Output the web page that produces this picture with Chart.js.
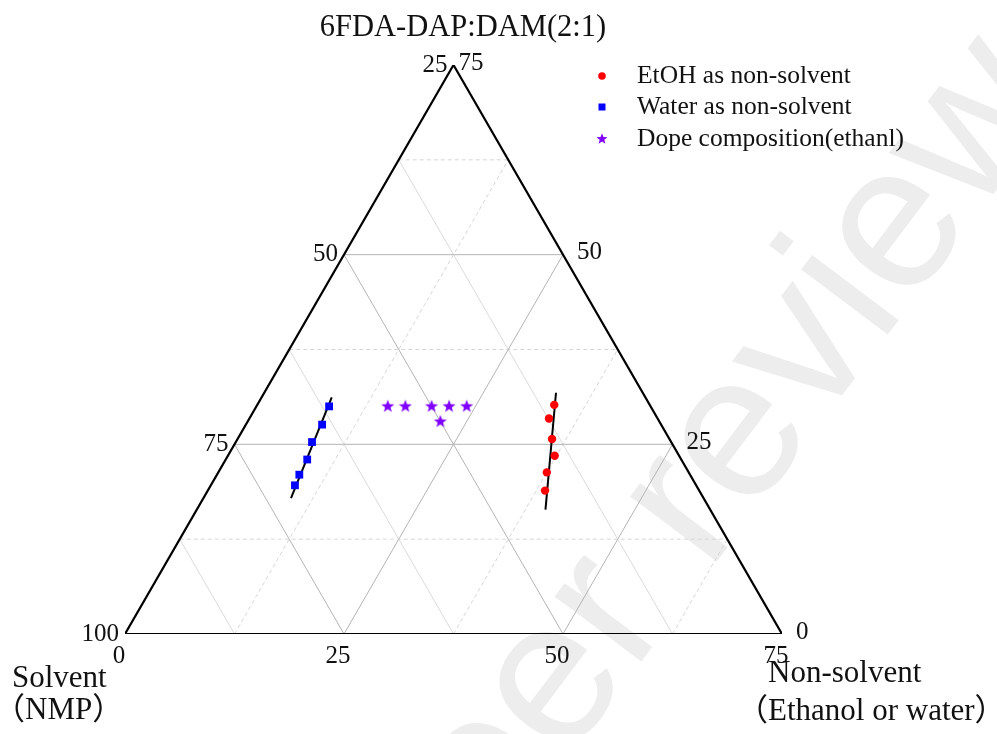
<!DOCTYPE html>
<html>
<head>
<meta charset="utf-8">
<title>6FDA-DAP:DAM(2:1)</title>
<script src="https://cdn.jsdelivr.net/npm/chart.js@4.4.0/dist/chart.umd.min.js"></script>
<style>
  html, body { margin: 0; padding: 0; background: #fff; }
  #wrap { width: 997px; height: 734px; position: relative; }
</style>
</head>
<body>
<div id="wrap"><canvas id="ternary"></canvas></div>
<script>
// Composiciones (% en peso): no-solvente y polímero, el solvente es el resto hasta 100
const etohNonsolvent = [33.9, 34.2, 35.9, 37.3, 37.5, 38.5];
const etohPolymer    = [30.2, 28.4, 25.7, 23.5, 21.3, 18.9];

const waterNonsolvent = [8.3, 8.7, 8.7, 9.3, 9.4, 9.6];
const waterPolymer    = [30.0, 27.6, 25.3, 23.0, 21.0, 19.6];

const dopeNonsolvent = [15, 17, 20, 22, 24, 22];
const dopePolymer    = [30, 30, 30, 30, 30, 28];

// Rectas de ajuste (extremos)
const etohFitNonsolvent  = [33.3, 39.8];
const etohFitPolymer     = [31.8, 16.4];
const waterFitNonsolvent = [8.0, 10.0];
const waterFitPolymer    = [31.2, 17.9];

// Etiquetas de los ejes
const solventTicks    = [100, 75, 50, 25];
const nonsolventTicks = [0, 25, 50, 75];
const polymerTicks    = [0, 25, 50, 75];
const gridLevels  = [12.5, 25, 37.5, 50, 62.5];
const majorLevels = [25, 50];

const SPAN = 75;               // lado del triángulo en %
const H = Math.sqrt(3) / 2;

// Pasar (no-solvente, polímero) a coordenadas cartesianas
function toXY(n, p) {
  return { x: n + p / 2, y: p * H };
}

function puntos(ns, ps) {
  return ns.map((n, i) => toXY(n, ps[i]));
}

// Estrella rellena para usar como pointStyle
function crearEstrella(radio, color) {
  const c = document.createElement('canvas');
  const s = Math.ceil(radio * 2 + 2);
  c.width = s;
  c.height = s;
  const ctx = c.getContext('2d');
  ctx.fillStyle = color;
  ctx.beginPath();
  for (let i = 0; i < 10; i++) {
    const r = i % 2 === 0 ? radio : radio * 0.42;
    const a = -Math.PI / 2 + i * Math.PI / 5;
    ctx.lineTo(s / 2 + r * Math.cos(a), s / 2 + r * Math.sin(a));
  }
  ctx.closePath();
  ctx.fill();
  return c;
}

const estrella = crearEstrella(6.8, '#7f00ff');
const estrellaLeyenda = crearEstrella(5.8, '#7f00ff');

// Líneas de la rejilla
function lineaRejilla(a, b, tipo) {
  const estilos = {
    major:  { color: '#b4b4b4', dash: [] },
    solid:  { color: '#dadada', dash: [] },
    dashed: { color: '#d6d6d6', dash: [4, 3] }
  };
  const e = estilos[tipo];
  return {
    data: [a, b],
    showLine: true,
    borderColor: e.color,
    borderDash: e.dash,
    borderWidth: 1,
    pointRadius: 0,
    fill: false,
    order: 5
  };
}

const datasets = [];
gridLevels.forEach(v => {
  const major = majorLevels.includes(v);
  // polímero constante
  datasets.push(lineaRejilla(toXY(0, v), toXY(SPAN - v, v), major ? 'major' : 'dashed'));
  // no-solvente constante
  datasets.push(lineaRejilla(toXY(v, 0), toXY(v, SPAN - v), major ? 'major' : 'dashed'));
  // solvente constante
  datasets.push(lineaRejilla(toXY(v, 0), toXY(0, v), major ? 'major' : 'solid'));
});

// Bordes del triángulo
datasets.push({
  data: [toXY(0, 0), toXY(SPAN, 0), toXY(0, SPAN), toXY(0, 0)],
  showLine: true,
  borderColor: '#000',
  borderWidth: 2.2,
  pointRadius: 0,
  fill: false,
  order: 3
});

// Ajustes
[[etohFitNonsolvent, etohFitPolymer], [waterFitNonsolvent, waterFitPolymer]].forEach(([ns, ps]) => {
  datasets.push({
    data: puntos(ns, ps),
    showLine: true,
    borderColor: '#000',
    borderWidth: 2,
    pointRadius: 0,
    fill: false,
    order: 2
  });
});

datasets.push({
  label: 'EtOH as non-solvent',
  data: puntos(etohNonsolvent, etohPolymer),
  pointStyle: 'circle',
  pointRadius: 4.2,
  pointBackgroundColor: '#ff0000',
  pointBorderWidth: 0,
  showLine: false,
  order: 0
});
datasets.push({
  label: 'Water as non-solvent',
  data: puntos(waterNonsolvent, waterPolymer),
  pointStyle: 'rect',
  pointRadius: 5.5,
  pointBackgroundColor: '#0000ff',
  pointBorderWidth: 0,
  showLine: false,
  order: 0
});
datasets.push({
  label: 'Dope composition(ethanl)',
  data: puntos(dopeNonsolvent, dopePolymer),
  pointStyle: estrella,
  pointRadius: 6,
  showLine: false,
  order: 0
});

const SERIF = '"Liberation Serif", "Noto Sans CJK SC", serif';

// Marca de agua de fondo
const marcaAgua = {
  id: 'marcaAgua',
  beforeDraw(chart) {
    const ctx = chart.ctx;
    ctx.save();
    ctx.translate(427, 946);
    ctx.rotate(-53 * Math.PI / 180);
    ctx.font = '205px "Liberation Sans", Arial, sans-serif';
    ctx.fillStyle = '#ededed';
    ctx.textBaseline = 'alphabetic';
    ctx.fillText('peer review', 0, 0);
    ctx.restore();
  }
};

// Etiquetas, títulos y leyenda
const textos = {
  id: 'textos',
  afterDraw(chart) {
    const ctx = chart.ctx;
    const sx = chart.scales.x;
    const sy = chart.scales.y;
    const px = (n, p) => {
      const q = toXY(n, p);
      return { x: sx.getPixelForValue(q.x), y: sy.getPixelForValue(q.y) };
    };
    ctx.save();
    ctx.fillStyle = '#111';

    // Título
    ctx.font = '30.5px ' + SERIF;
    ctx.textAlign = 'center';
    ctx.textBaseline = 'alphabetic';
    ctx.fillText('6FDA-DAP:DAM(2:1)', 463, 36);

    ctx.font = '25px ' + SERIF;
    ctx.textBaseline = 'middle';

    // Lado izquierdo: solvente
    ctx.textAlign = 'right';
    solventTicks.forEach(s => {
      const q = px(0, 100 - s);
      ctx.fillText(String(s), q.x - 6, q.y);
    });

    // Lado derecho: polímero
    ctx.textAlign = 'left';
    polymerTicks.forEach(p => {
      const q = px(SPAN - p, p);
      ctx.fillText(String(p), q.x + (p === SPAN ? 5 : 14), q.y - 2);
    });

    // Base: no-solvente
    ctx.textAlign = 'center';
    nonsolventTicks.forEach(n => {
      const q = px(n, 0);
      ctx.fillText(String(n), q.x - 6, q.y + 22);
    });

    // Nombres de los ejes
    ctx.font = '31px ' + SERIF;
    ctx.textAlign = 'left';
    ctx.textBaseline = 'alphabetic';
    ctx.fillText('Solvent', 12, 687);
    ctx.fillText('（NMP）', -6, 719);
    ctx.fillText('Non-solvent', 768, 682);
    ctx.fillText('（Ethanol or water）', 737, 720);

    // Leyenda
    const lx = 602;
    const filas = [76, 107, 139];
    ctx.fillStyle = '#ff0000';
    ctx.beginPath();
    ctx.arc(lx, filas[0], 3.8, 0, Math.PI * 2);
    ctx.fill();
    ctx.fillStyle = '#0000ff';
    ctx.fillRect(lx - 3.5, filas[1] - 3.5, 7, 7);
    ctx.drawImage(estrellaLeyenda, lx - estrellaLeyenda.width / 2, filas[2] - estrellaLeyenda.height / 2);

    ctx.fillStyle = '#111';
    ctx.font = '25.5px ' + SERIF;
    ctx.textBaseline = 'middle';
    ctx.fillText('EtOH as non-solvent', 637, filas[0]);
    ctx.fillText('Water as non-solvent', 637, filas[1]);
    ctx.fillText('Dope composition(ethanl)', 637, filas[2]);
    ctx.restore();
  }
};

document.addEventListener('DOMContentLoaded', function() {
  const ctx = document.getElementById('ternary').getContext('2d');
  new Chart(ctx, {
    type: 'scatter',
    data: { datasets: datasets },
    options: {
      responsive: true,
      maintainAspectRatio: false,
      animation: false,
      layout: {
        padding: { left: 125, right: 215, top: 65, bottom: 100 }
      },
      scales: {
        x: { type: 'linear', min: 0, max: SPAN, display: false },
        y: { type: 'linear', min: 0, max: SPAN * H, display: false }
      },
      plugins: {
        legend: { display: false },
        tooltip: { enabled: false }
      }
    },
    plugins: [marcaAgua, textos]
  });
});
</script>
</body>
</html>
